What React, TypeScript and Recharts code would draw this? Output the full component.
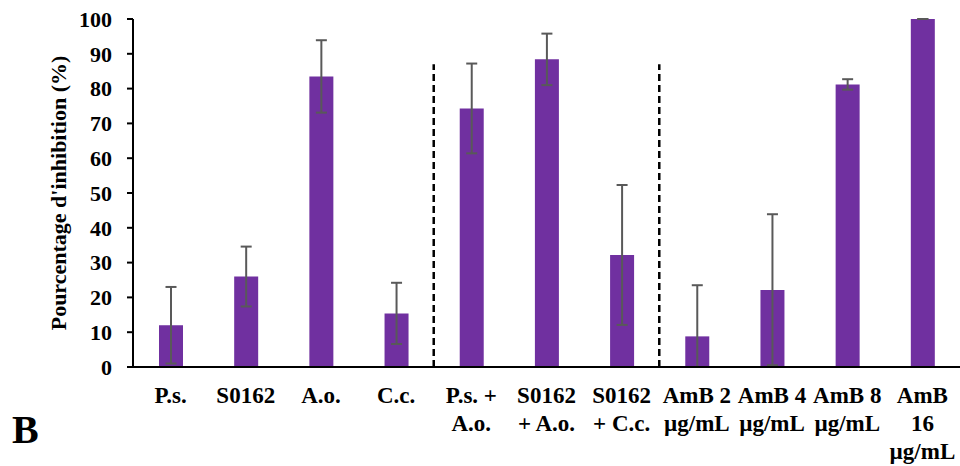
import { Bar, BarChart, ErrorBar, ReferenceLine, XAxis, YAxis } from 'recharts';

const categories = [
  'P.s.',
  'S0162',
  'A.o.',
  'C.c.',
  'P.s. +\nA.o.',
  'S0162\n+ A.o.',
  'S0162\n+ C.c.',
  'AmB 2\nµg/mL',
  'AmB 4\nµg/mL',
  'AmB 8\nµg/mL',
  'AmB\n16\nµg/mL',
];
const inhibition = [12, 26, 83.5, 15.4, 74.3, 88.4, 32.2, 8.8, 22.1, 81.2, 100];
const errUp = [11, 8.6, 10.4, 8.8, 12.9, 7.4, 20.1, 14.7, 21.8, 1.5, 0];
const errDown = [11, 8.6, 10.4, 8.8, 12.9, 7.4, 20.1, 8.8, 21.6, 1.5, 0];
const yTicks = [0, 10, 20, 30, 40, 50, 60, 70, 80, 90, 100];
// group separators: dashed line drawn at the start of these categories
const separators = ['P.s. +\nA.o.', 'AmB 2\nµg/mL'];
const separatorTop = 87;

const data = categories.map((name, i) => ({
  name,
  value: inhibition[i],
  err: [errDown[i], errUp[i]],
}));

const FONT = '"Liberation Serif", "Times New Roman", serif';

const XTick = ({ x, y, payload }: any) => {
  const lines = String(payload.value).split('\n');
  return (
    <text
      x={x}
      y={y}
      textAnchor="middle"
      fontFamily={FONT}
      fontWeight="bold"
      fontSize={23}
      fill="#000"
    >
      {lines.map((l, i) => (
        <tspan key={i} x={x} dy={i === 0 ? 36 : 28}>
          {l}
        </tspan>
      ))}
    </text>
  );
};

const YLabel = ({ viewBox }: any) => {
  const cx = 58;
  const cy = viewBox.y + viewBox.height / 2;
  return (
    <text
      x={cx}
      y={cy}
      transform={`rotate(-90 ${cx} ${cy})`}
      textAnchor="middle"
      dominantBaseline="central"
      fontFamily={FONT}
      fontWeight="bold"
      fontSize={22}
      fill="#000"
    >
      Pourcentage d'inhibition (%)
    </text>
  );
};

export default function App() {
  return (
    <div style={{ position: 'absolute', left: 0, top: 0, width: 960, height: 466, background: '#fff' }}>
      <BarChart
        width={960}
        height={466}
        data={data}
        margin={{ top: 19, right: 0, left: 0, bottom: 0 }}
        barCategoryGap={0}
      >
        <XAxis
          dataKey="name"
          interval={0}
          tickLine={false}
          tickSize={0}
          tickMargin={0}
          height={99}
          axisLine={{ stroke: '#000', strokeWidth: 2 }}
          tick={<XTick />}
        />
        <YAxis
          width={133}
          domain={[0, 100]}
          ticks={yTicks}
          interval={0}
          tickSize={6}
          tickMargin={15}
          axisLine={{ stroke: '#000', strokeWidth: 2 }}
          tickLine={{ stroke: '#000', strokeWidth: 2 }}
          tick={{ fill: '#000', fontFamily: FONT, fontWeight: 'bold', fontSize: 22 }}
          label={<YLabel />}
        />
        {separators.map((s) => (
          <ReferenceLine
            key={s}
            segment={[
              { x: s, y: 0 },
              { x: s, y: separatorTop },
            ]}
            position="start"
            stroke="#000"
            strokeWidth={2.5}
            strokeDasharray="7 4"
          />
        ))}
        <Bar dataKey="value" fill="#7030A0" barSize={24} isAnimationActive={false}>
          <ErrorBar dataKey="err" direction="y" width={5.5} stroke="#595959" strokeWidth={2} />
        </Bar>
      </BarChart>
      <div
        style={{
          position: 'absolute',
          left: 12,
          top: 406,
          fontFamily: FONT,
          fontWeight: 'bold',
          fontSize: 40,
          lineHeight: '48px',
          color: '#000',
        }}
      >
        B
      </div>
    </div>
  );
}
